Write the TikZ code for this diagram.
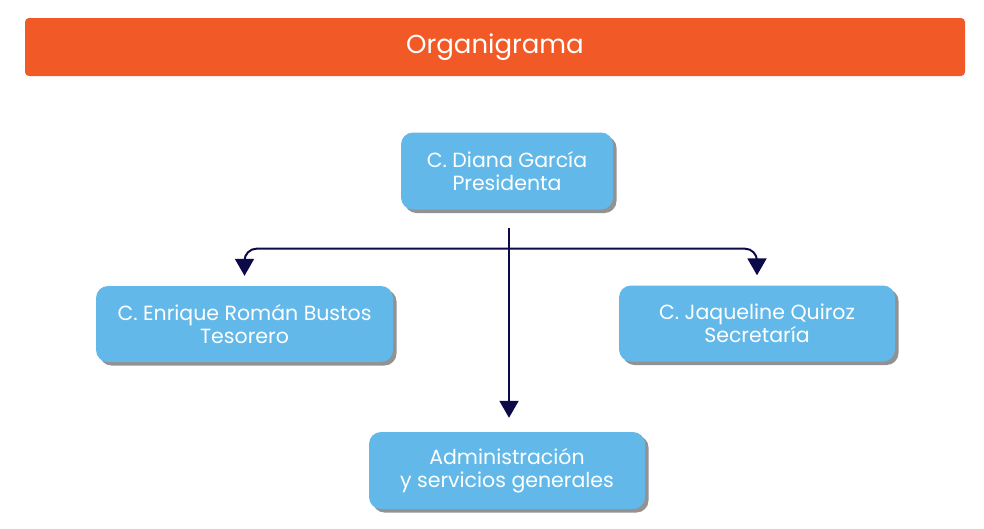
\documentclass[tikz,border=0pt]{standalone}
\usepackage{fontspec}
\setmainfont{Poppins}
\usepackage{tikz}
\usetikzlibrary{calc}
\usetikzlibrary{arrows.meta}
\usetikzlibrary{shadows}
\definecolor{bannerorange}{RGB}{241,90,38}
\definecolor{boxblue}{RGB}{98,185,233}
\definecolor{linenavy}{RGB}{12,10,72}
\newcommand{\person}[2]{#1\\#2}
\newcommand{\heightbox}{77pt}
\tikzset{
    common/.style={rectangle, rounded corners=12pt, fill=boxblue, text=white, align=center,
        minimum height=\heightbox, font=\fontsize{20.5}{22.5}\selectfont},
    box/.style={common, drop shadow={shadow xshift=3.5pt, shadow yshift=-3.5pt, opacity=0.5, fill=black!85}},
    banner/.style={rectangle, rounded corners=4pt, fill=bannerorange, text=white,
        minimum width=940pt, minimum height=58pt, font=\fontsize{26}{30}\selectfont},
    conn/.style={draw=linenavy, line width=2pt, -{Triangle[width=19pt,length=17pt]}}
}

\begin{document}
\begin{tikzpicture}[x=1pt, y=-1pt]
        \useasboundingbox (0,0) rectangle (984,528);
        \node[banner] (title) at (495,47) {Organigrama};

        \node[box, minimum width=212pt] (pres) at (507,171) {\person{C. Diana García}{Presidenta}};
        \node[box, minimum width=297pt, minimum height=76pt] (tes) at (244.5,324) {\person{C. Enrique Román Bustos}{Tesorero}};
        \node[box, minimum width=276pt, minimum height=76pt] (sec) at (757,323.5) {\person{C. Jaqueline Quiroz}{Secretaría}};
        \node[box, minimum width=276pt] (adm) at (507,470.5) {\person{Administración}{y servicios generales}};

        \coordinate (split) at ($(pres.south)+(2,39)$);
        \draw[conn, shorten <=18pt, shorten >=14pt] (pres.south -| split) -- (adm.north -| split);
        \draw[conn, rounded corners=12pt, shorten >=10pt] (split) -| (tes.north);
        \draw[conn, rounded corners=12pt, shorten >=10pt] (split) -| (sec.north);
    \end{tikzpicture}
\end{document}
